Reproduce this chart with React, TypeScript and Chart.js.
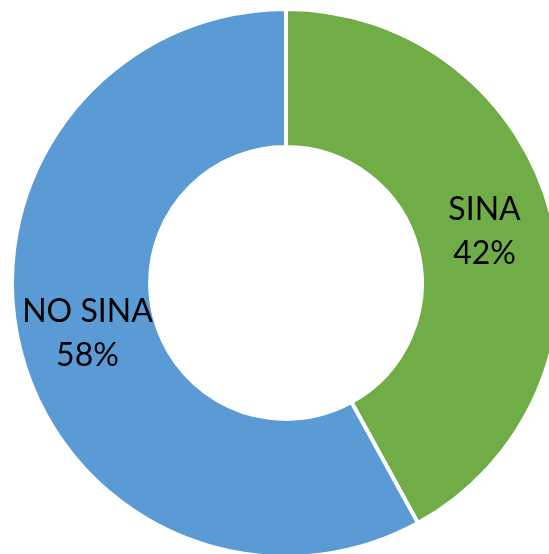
import React, { useEffect, useRef } from "react";
import { Chart, registerables } from "chart.js";

Chart.register(...registerables);

const categories = ["SINA", "NO SINA"];
const values = [42, 58];
const colors = ["#70AD47", "#5B9BD5"];

const CX = 286;
const CY = 283;
const SIZE = 552;

const labelPlugin = {
  id: "sliceLabels",
  afterDatasetsDraw(chart: any) {
    const ctx = chart.ctx;
    const meta = chart.getDatasetMeta(0);
    const total = values.reduce((a, b) => a + b, 0);
    ctx.save();
    ctx.fillStyle = "#000000";
    ctx.font = "32px Lato";
    ctx.textAlign = "center";
    ctx.textBaseline = "middle";
    meta.data.forEach((arc: any, i: number) => {
      const p = arc.tooltipPosition();
      const pct = Math.round((values[i] / total) * 100) + "%";
      ctx.fillText(categories[i], p.x, p.y - 22);
      ctx.fillText(pct, p.x, p.y + 22);
    });
    ctx.restore();
  },
};

export default function App() {
  const ref = useRef<HTMLCanvasElement | null>(null);
  useEffect(() => {
    if (!ref.current) return;
    const chart = new Chart(ref.current, {
      type: "doughnut",
      data: {
        labels: categories,
        datasets: [
          {
            data: values,
            backgroundColor: colors,
            borderColor: "#ffffff",
            borderWidth: 4,
          },
        ],
      },
      options: {
        animation: false,
        responsive: false,
        cutout: "49.6%",
        layout: { padding: 0 },
        plugins: {
          legend: { display: false },
          tooltip: { enabled: false },
        },
      },
      plugins: [labelPlugin],
    });
    return () => chart.destroy();
  }, []);
  return (
    <div
      style={{
        position: "fixed",
        left: 0,
        top: 0,
        width: 549,
        height: 554,
        overflow: "hidden",
        background: "#ffffff",
      }}
    >
      <canvas
        ref={ref}
        width={SIZE}
        height={SIZE}
        style={{
          position: "absolute",
          left: CX - SIZE / 2,
          top: CY - SIZE / 2,
          width: SIZE,
          height: SIZE,
        }}
      />
    </div>
  );
}
